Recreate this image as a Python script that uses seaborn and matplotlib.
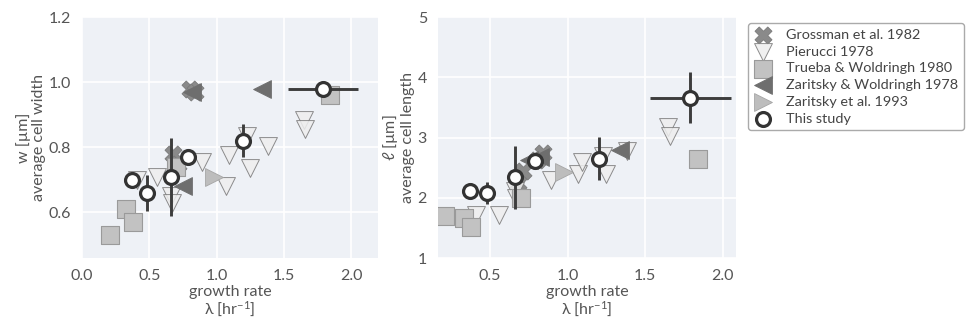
import numpy as np
import pandas as pd
import matplotlib
matplotlib.use("Agg")
import matplotlib.pyplot as plt
import seaborn as sns

# ---- data: growth rate (1/hr), average width (um), average length (um) ----
grossman_rate = [0.68, 0.71, 0.80, 0.84]
grossman_width = [0.78, 0.75, 0.98, 0.97]
grossman_length = [2.25, 2.45, 2.62, 2.75]

pierucci_rate = [0.41, 0.56, 0.66, 0.67, 0.89, 1.07, 1.09, 1.23, 1.25, 1.38, 1.65, 1.66]
pierucci_width = [0.70, 0.71, 0.65, 0.63, 0.755, 0.68, 0.775, 0.835, 0.735, 0.805, 0.885, 0.855]
pierucci_length = [1.71, 1.72, 2.11, 1.99, 2.30, 2.39, 2.60, 2.70, 2.40, 2.77, 3.17, 3.03]

trueba_rate = [0.21, 0.33, 0.38, 0.70, 1.84]
trueba_width = [0.53, 0.61, 0.57, 0.74, 0.96]
trueba_length = [1.69, 1.66, 1.51, 2.00, 2.65]

zw_rate = [0.75, 0.82, 1.34]
zw_width = [0.68, 0.97, 0.98]
zw_length = [2.62, 2.68, 2.80]

z93_rate = [0.98]
z93_width = [0.71]
z93_length = [2.42]

study_rate = [0.37, 0.48, 0.66, 0.79, 1.20, 1.79]
study_rate_err = [0.0, 0.0, 0.0, 0.0, 0.0, 0.26]
study_width = [0.70, 0.66, 0.71, 0.77, 0.82, 0.98]
study_width_err = [0.0, 0.055, 0.12, 0.0, 0.05, 0.0]
study_length = [2.11, 2.08, 2.34, 2.61, 2.65, 3.66]
study_length_err = [0.0, 0.18, 0.52, 0.0, 0.36, 0.42]

studies = [
    ("Grossman et al. 1982", grossman_rate, grossman_width, grossman_length,
     dict(marker="X", s=150, color="#8a8a8a", edgecolor="#7a7a7a", linewidth=0.6)),
    ("Pierucci 1978", pierucci_rate, pierucci_width, pierucci_length,
     dict(marker="v", s=165, color="#eeeeee", edgecolor="#7a7a7a", linewidth=0.7, alpha=0.85)),
    ("Trueba & Woldringh 1980", trueba_rate, trueba_width, trueba_length,
     dict(marker="s", s=165, color="#c2c2c2", edgecolor="#9a9a9a", linewidth=0.8)),
    ("Zaritsky & Woldringh 1978", zw_rate, zw_width, zw_length,
     dict(marker="<", s=165, color="#6e6e6e", edgecolor="#6e6e6e", linewidth=0.6)),
    ("Zaritsky et al. 1993", z93_rate, z93_width, z93_length,
     dict(marker=">", s=165, color="#bdbdbd", edgecolor="#a5a5a5", linewidth=0.6)),
]

sns.set_theme(style="darkgrid", rc={
    "axes.facecolor": "#eef1f6",
    "grid.color": "white",
    "grid.linewidth": 1.2,
    "xtick.color": "#555555",
    "ytick.color": "#555555",
    "axes.labelcolor": "#555555",
})
plt.rcParams["font.family"] = ["Lato", "DejaVu Sans"]
plt.rcParams["mathtext.default"] = "regular"

fig = plt.figure(figsize=(9.68, 3.24), dpi=100)
ax_w = fig.add_axes([0.0847, 0.2037, 0.3058, 0.7438])
ax_l = fig.add_axes([0.4525, 0.2037, 0.3078, 0.7438])

panels = [(ax_w, 2, study_width, study_width_err),
          (ax_l, 3, study_length, study_length_err)]

for ax, col, s_val, s_err in panels:
    for name, rate, width, length, style in studies:
        vals = width if col == 2 else length
        df = pd.DataFrame({"rate": rate, "value": vals})
        sns.scatterplot(data=df, x="rate", y="value", ax=ax, label=name,
                        zorder=3, legend=False, **style)
    ax.errorbar(study_rate, s_val, xerr=study_rate_err, yerr=s_err, fmt="none",
                ecolor="#3d3d3d", elinewidth=2.1, capsize=0, zorder=4)
    df = pd.DataFrame({"rate": study_rate, "value": s_val})
    sns.scatterplot(data=df, x="rate", y="value", ax=ax, marker="o", s=100,
                    color="white", edgecolor="#333333", linewidth=2.3,
                    zorder=5, legend=False, label="This study")
    ax.tick_params(labelsize=11.5, pad=2)
    for sp in ax.spines.values():
        sp.set_visible(False)

ax_w.set_xlim(0, 2.2)
ax_w.set_ylim(0.46, 1.2)
ax_w.set_xticks([0.0, 0.5, 1.0, 1.5, 2.0])
ax_w.set_yticks([0.6, 0.8, 1.0, 1.2])
ax_w.set_xlabel("growth rate\nλ [hr$^{-1}$]", fontsize=11.5, labelpad=1, linespacing=1.1)
ax_w.set_ylabel("w [µm]\naverage cell width", fontsize=11.5, labelpad=2, linespacing=1.1)

ax_l.set_xlim(0.165, 2.085)
ax_l.set_ylim(1, 5)
ax_l.set_xticks([0.5, 1.0, 1.5, 2.0])
ax_l.set_yticks([1, 2, 3, 4, 5])
ax_l.set_xlabel("growth rate\nλ [hr$^{-1}$]", fontsize=11.5, labelpad=1, linespacing=1.1)
ax_l.set_ylabel("$\\ell$ [µm]\naverage cell length", fontsize=11.5, labelpad=2, linespacing=1.1)

# legend built from the handles of the length panel
handles, labels = ax_l.get_legend_handles_labels()
leg = fig.legend(handles, labels, loc="upper left", bbox_to_anchor=(0.7727, 0.929),
                 fontsize=10.4, frameon=True, fancybox=True, framealpha=1,
                 edgecolor="#aaaaaa", facecolor="white", handletextpad=1.0,
                 labelspacing=0.32, borderpad=0.4, handlelength=1.25,
                 markerscale=1.0, borderaxespad=0)
for t in leg.get_texts():
    t.set_color("#444444")

fig.savefig("out.png", dpi=100)
